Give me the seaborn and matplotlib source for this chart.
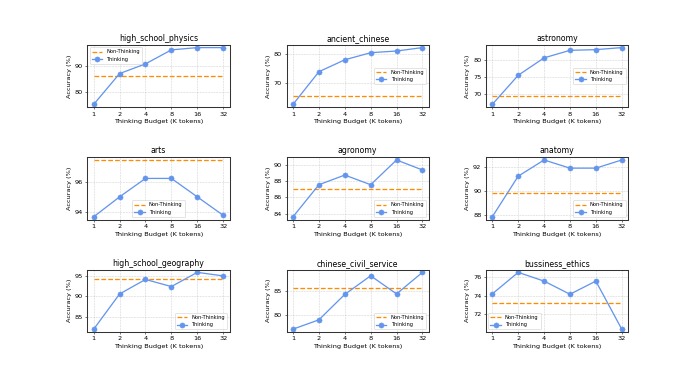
import numpy as np
import pandas as pd
import matplotlib
matplotlib.use('Agg')
import matplotlib.pyplot as plt
import seaborn as sns

# thinking budgets (K tokens)
budgets = [1, 2, 4, 8, 16, 32]

subjects = ['high_school_physics', 'ancient_chinese', 'astronomy',
            'arts', 'agronomy', 'anatomy',
            'high_school_geography', 'chinese_civil_service', 'bussiness_ethics']

# accuracy (%) with thinking, one list per subject
thinking_physics = [75.0, 87.1, 90.9, 96.4, 97.3, 97.3]
thinking_ancient = [62.4, 73.9, 78.1, 80.6, 81.2, 82.4]
thinking_astronomy = [66.9, 75.4, 80.5, 82.7, 82.9, 83.5]
thinking_arts = [93.65, 95.0, 96.25, 96.25, 95.0, 93.75]
thinking_agronomy = [83.64, 87.55, 88.73, 87.55, 90.57, 89.35]
thinking_anatomy = [87.84, 91.22, 92.57, 91.89, 91.89, 92.57]
thinking_geography = [82.2, 90.6, 94.07, 92.37, 95.76, 94.92]
thinking_civil = [77.2, 79.1, 84.3, 88.1, 84.4, 88.8]
thinking_ethics = [74.2, 76.56, 75.6, 74.16, 75.6, 70.33]

# accuracy (%) without thinking
non_thinking = [86.2, 65.2, 69.2, 97.5, 86.99, 89.86, 94.07, 85.63, 73.2]

thinking = [thinking_physics, thinking_ancient, thinking_astronomy,
            thinking_arts, thinking_agronomy, thinking_anatomy,
            thinking_geography, thinking_civil, thinking_ethics]

legend_locs = ['upper left', 'center right', 'center right',
               'lower center', 'lower right', 'lower right',
               'lower right', 'lower right', 'lower left']

dpi = 46.5
fig, axes = plt.subplots(3, 3, figsize=(698 / dpi, 373 / dpi))
plt.subplots_adjust(wspace=0.4, hspace=0.8)

for i, ax in enumerate(axes.flat):
    # Non-thinking baseline as a flat dashed line across all budgets
    sns.lineplot(x=budgets, y=[non_thinking[i]] * len(budgets), ax=ax,
                 color='darkorange', linestyle='--', linewidth=2,
                 label='Non-Thinking')
    sns.lineplot(x=budgets, y=thinking[i], ax=ax, color='cornflowerblue',
                 marker='o', markersize=8, markeredgecolor='cornflowerblue',
                 linewidth=2, label='Thinking')

    ax.set_xscale('log', base=2)
    ax.set_xticks(budgets)
    ax.set_xticklabels([str(b) for b in budgets])
    ax.minorticks_off()
    ax.set_title(subjects[i], fontsize=12)
    ax.set_xlabel('Thinking Budget (K tokens)')
    ax.set_ylabel('Accuracy (%)')
    ax.grid(True, linestyle='--', alpha=0.6)
    for sp in ax.spines.values():
        sp.set_linewidth(1.6)
        sp.set_color('#333333')
    ax.legend(loc=legend_locs[i], fontsize=8)

plt.savefig('out.png', dpi=dpi)
